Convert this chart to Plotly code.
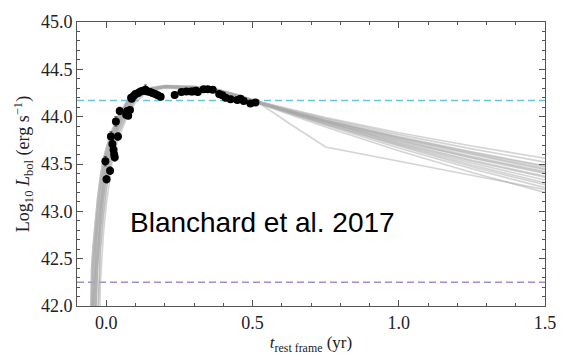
import plotly.graph_objects as go

# ---------------- data ----------------
# observed bolometric light curve (rest-frame years, log10 erg/s)
T_OBS = [-0.003, 0.001, 0.013, 0.016, 0.021, 0.025, 0.027, 0.029, 0.033, 0.040,
         0.046, 0.068, 0.072, 0.075, 0.081, 0.085, 0.087, 0.094, 0.100, 0.109,
         0.117, 0.125, 0.134, 0.141, 0.150, 0.158, 0.167, 0.176, 0.186, 0.234,
         0.257, 0.274, 0.290, 0.296, 0.307, 0.313, 0.333, 0.347, 0.364, 0.386,
         0.397, 0.408, 0.425, 0.448, 0.459, 0.470, 0.493, 0.510]
L_OBS = [43.53, 43.34, 43.43, 43.79, 43.71, 43.65, 43.60, 43.57, 43.95, 43.79,
         44.06, 44.02, 44.06, 44.01, 44.07, 44.20, 44.19, 44.22, 44.24, 44.25,
         44.265, 44.275, 44.285, 44.265, 44.26, 44.25, 44.24, 44.225, 44.21, 44.23,
         44.26, 44.265, 44.265, 44.265, 44.275, 44.26, 44.29, 44.29, 44.285, 44.24,
         44.225, 44.20, 44.185, 44.175, 44.19, 44.165, 44.14, 44.15]
L_ERR = [0.05, 0.04, 0.04, 0.05, 0.04, 0.04, 0.04, 0.04, 0.05, 0.04,
         0.04, 0.03, 0.03, 0.03, 0.03, 0.03, 0.03, 0.03, 0.03, 0.03,
         0.03, 0.03, 0.05, 0.03, 0.03, 0.03, 0.03, 0.03, 0.03, 0.03,
         0.03, 0.02, 0.02, 0.02, 0.02, 0.02, 0.02, 0.02, 0.02, 0.03,
         0.03, 0.03, 0.03, 0.02, 0.03, 0.02, 0.02, 0.02]

# model light curves (posterior draws) sampled on a common time grid
T_MODEL = [-0.065, -0.05, -0.045, -0.04, -0.035, -0.03, -0.02, -0.01, 0.0, 0.02,
           0.04, 0.07, 0.10, 0.14, 0.20, 0.30, 0.38, 0.45, 0.52, 0.63,
           0.75, 1.00, 1.25, 1.50]
MODEL_L = [
    [40.0, 42.4, 42.63, 42.82, 42.98, 43.13, 43.37, 43.55, 43.67, 43.86,
     44.0, 44.16, 44.25, 44.30, 44.33, 44.32, 44.29, 44.23, 44.16, 44.08,
     43.99, 43.83, 43.69, 43.56],
    [40.0, 42.0, 42.4, 42.63, 42.82, 42.98, 43.26, 43.47, 43.61, 43.82,
     43.97, 44.14, 44.24, 44.29, 44.32, 44.31, 44.28, 44.22, 44.15, 44.06,
     43.97, 43.79, 43.63, 43.48],
    [40.0, 40.8, 42.0, 42.4, 42.63, 42.82, 43.13, 43.37, 43.55, 43.78,
     43.93, 44.12, 44.23, 44.29, 44.32, 44.31, 44.28, 44.22, 44.15, 44.05,
     43.95, 43.76, 43.58, 43.42],
    [39.5, 40.0, 40.8, 42.0, 42.4, 42.63, 42.98, 43.26, 43.47, 43.73,
     43.90, 44.09, 44.22, 44.28, 44.32, 44.31, 44.28, 44.22, 44.15, 44.05,
     43.94, 43.73, 43.54, 43.37],
    [39.0, 39.5, 40.0, 40.8, 42.0, 42.4, 42.82, 43.13, 43.37, 43.67,
     43.86, 44.06, 44.20, 44.28, 44.31, 44.30, 44.27, 44.21, 44.15, 44.04,
     43.92, 43.70, 43.49, 43.30],
    [39.0, 39.3, 39.5, 40.0, 40.6, 41.8, 42.6, 42.95, 43.23, 43.60,
     43.81, 44.02, 44.18, 44.27, 44.31, 44.30, 44.27, 44.21, 44.14, 44.03,
     43.91, 43.67, 43.45, 43.25],
    [39.0, 39.2, 39.4, 39.6, 40.0, 40.5, 42.25, 42.75, 43.07, 43.52,
     43.76, 43.99, 44.15, 44.26, 44.30, 44.29, 44.26, 44.20, 44.14, 44.02,
     43.89, 43.64, 43.41, 43.20],
    [40.0, 40.8, 42.0, 42.4, 42.63, 42.82, 43.13, 43.37, 43.55, 43.78,
     43.93, 44.12, 44.23, 44.29, 44.32, 44.31, 44.28, 44.22, 44.15, 43.92,
     43.68, 43.53, 43.38, 43.23],
    [40.0, 42.0, 42.4, 42.63, 42.82, 42.98, 43.26, 43.47, 43.61, 43.82,
     43.97, 44.14, 44.24, 44.29, 44.32, 44.31, 44.28, 44.22, 44.15, 44.06,
     43.96, 43.78, 43.61, 43.45],
    [39.5, 40.0, 40.8, 42.0, 42.4, 42.63, 42.98, 43.26, 43.47, 43.73,
     43.90, 44.09, 44.22, 44.28, 44.32, 44.31, 44.28, 44.22, 44.15, 44.04,
     43.93, 43.71, 43.51, 43.33],
    [39.0, 39.5, 40.0, 40.8, 42.0, 42.4, 42.82, 43.13, 43.37, 43.67,
     43.86, 44.06, 44.20, 44.28, 44.31, 44.30, 44.27, 44.21, 44.15, 44.05,
     43.95, 43.75, 43.56, 43.40],
    [40.0, 40.8, 42.0, 42.4, 42.63, 42.82, 43.13, 43.37, 43.55, 43.78,
     43.93, 44.12, 44.23, 44.29, 44.32, 44.31, 44.28, 44.22, 44.16, 44.07,
     43.98, 43.81, 43.66, 43.52],
    [40.0, 42.4, 42.63, 42.82, 42.98, 43.13, 43.37, 43.55, 43.67, 43.86,
     44.0, 44.16, 44.25, 44.30, 44.33, 44.32, 44.29, 44.23, 44.16, 44.06,
     43.96, 43.77, 43.60, 43.44],
    [39.5, 40.0, 40.8, 42.0, 42.4, 42.63, 42.98, 43.26, 43.47, 43.73,
     43.90, 44.09, 44.22, 44.28, 44.32, 44.31, 44.28, 44.22, 44.15, 44.05,
     43.94, 43.74, 43.57, 43.41],
    [39.0, 39.3, 39.5, 40.0, 40.6, 41.8, 42.6, 42.95, 43.23, 43.60,
     43.81, 44.02, 44.18, 44.27, 44.31, 44.30, 44.27, 44.21, 44.15, 44.05,
     43.94, 43.72, 43.53, 43.36],
    [40.0, 42.0, 42.4, 42.63, 42.82, 42.98, 43.26, 43.47, 43.61, 43.82,
     43.97, 44.14, 44.24, 44.29, 44.32, 44.31, 44.28, 44.22, 44.15, 44.04,
     43.92, 43.69, 43.47, 43.28],
    [39.0, 39.5, 40.0, 40.8, 42.0, 42.4, 42.82, 43.13, 43.37, 43.67,
     43.86, 44.06, 44.20, 44.28, 44.31, 44.30, 44.27, 44.21, 44.15, 44.06,
     43.96, 43.78, 43.62, 43.47],
]

# horizontal reference levels
L_PEAK_REF = 44.17
L_LOW_REF = 42.25

X_RANGE = [-0.1, 1.5]
Y_RANGE = [42.0, 45.0]
X_TICKS = [0.0, 0.5, 1.0, 1.5]
X_TICK_TEXT = ["0.0", "0.5", "1.0", "1.5"]
Y_TICKS = [42.0, 42.5, 43.0, 43.5, 44.0, 44.5, 45.0]
Y_TICK_TEXT = ["42.0", "42.5", "43.0", "43.5", "44.0", "44.5", "45.0"]

# ---------------- figure ----------------
fig = go.Figure()

for ys in MODEL_L:
    fig.add_trace(go.Scatter(
        x=T_MODEL, y=ys, mode="lines",
        line=dict(color="rgba(170,170,170,0.5)", width=1.6),
        hoverinfo="skip", showlegend=False))

fig.add_trace(go.Scatter(
    x=T_OBS, y=L_OBS, mode="markers",
    marker=dict(color="black", size=8),
    error_y=dict(type="data", array=L_ERR, color="rgba(40,40,40,0.8)",
                 thickness=1, width=1.5),
    showlegend=False))

serif = "Liberation Serif, Times New Roman, serif"
axis_common = dict(
    showgrid=False, zeroline=False,
    showline=True, linecolor="#555", linewidth=1, mirror="allticks",
    ticks="inside", ticklen=6, tickwidth=1, tickcolor="#555",
    tickfont=dict(family=serif, size=18, color="#222"),
)

fig.update_xaxes(
    range=X_RANGE, tickvals=X_TICKS, ticktext=X_TICK_TEXT,
    minor=dict(ticks="inside", ticklen=3, dtick=0.1, tickcolor="#555", tick0=0),
    title=dict(text="<i>t</i><sub>rest frame</sub> (yr)",
               font=dict(family=serif, size=17, color="#222"), standoff=4),
    **axis_common)
fig.update_yaxes(
    range=Y_RANGE, tickvals=Y_TICKS, ticktext=Y_TICK_TEXT,
    minor=dict(ticks="inside", ticklen=3, dtick=0.1, tickcolor="#555", tick0=42),
    title=dict(text="Log<sub>10</sub> <i>L</i><sub>bol</sub> (erg s<sup>\u22121</sup>)",
               font=dict(family=serif, size=18, color="#222"), standoff=6),
    **axis_common)

fig.add_shape(type="line", xref="paper", x0=0, x1=1, yref="y",
              y0=L_PEAK_REF, y1=L_PEAK_REF, layer="below",
              line=dict(color="#63c6da", width=1.5, dash="7px,4px"))
fig.add_shape(type="line", xref="paper", x0=0, x1=1, yref="y",
              y0=L_LOW_REF, y1=L_LOW_REF, layer="below",
              line=dict(color="#a48bd2", width=1.5, dash="7px,4px"))

fig.add_annotation(
    text="Blanchard et al. 2017", xref="paper", yref="paper",
    x=0.108, y=0.294, xanchor="left", yanchor="middle", showarrow=False,
    font=dict(family="Liberation Sans, Arial, sans-serif", size=28, color="black"))

fig.update_layout(
    width=568, height=360,
    margin=dict(l=77, r=14, t=17, b=47),
    paper_bgcolor="white", plot_bgcolor="white",
    showlegend=False,
)

fig.write_html("out.html")
